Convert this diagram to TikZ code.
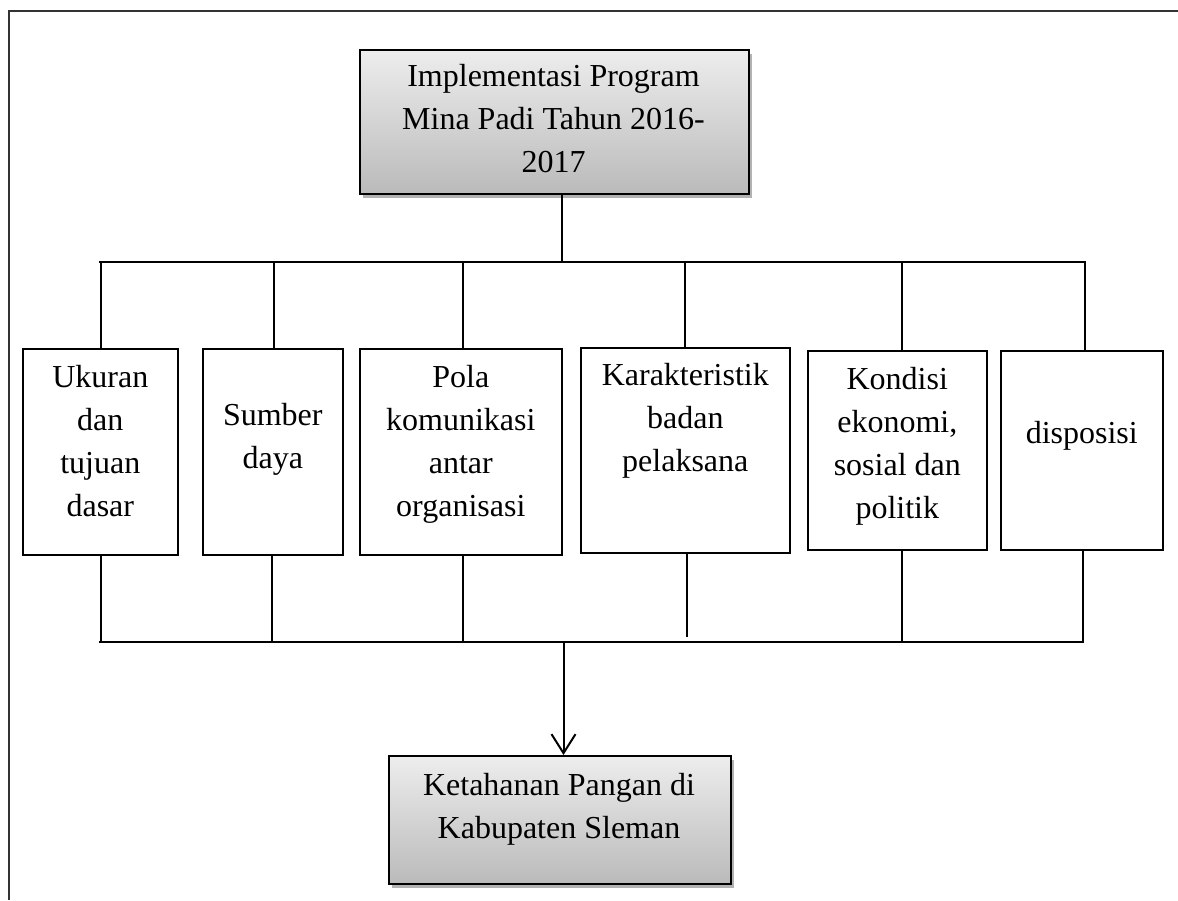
\documentclass[tikz,border=0pt]{standalone}
\usepackage{fontspec}
\setmainfont{Liberation Serif}
\usetikzlibrary{arrows.meta,shadows}
\begin{document}
\begin{tikzpicture}[x=1pt,y=-1pt,
  txt/.style={font=\fontsize{32}{43}\selectfont, align=center, anchor=north, inner sep=0pt},
  headbox/.style={draw=black, line width=2pt, rectangle, anchor=north west, inner sep=0pt,
     top color=black!7, bottom color=black!27,
     drop shadow={shadow xshift=3pt, shadow yshift=-4pt, fill=black, opacity=0.3}},
  factbox/.style={draw=black, line width=1.6pt, rectangle, anchor=north west, inner sep=0pt, fill=white},
  bus/.style={line width=2.3pt},
  conn/.style={line width=2pt},
  frameline/.style={line width=2pt, draw=black!80}
]
\useasboundingbox (0,0) rectangle (1178,900);
% frame
\coordinate (fTL) at (8.5,10.5);
\coordinate (fTR) at (1178,10.5);
\coordinate (fBL) at (8.5,900);
\draw[frameline] (fBL) -- (fTL) -- (fTR);

% top box
\node[headbox, minimum width=389pt, minimum height=144pt] (top) at (359,49) {};
\node[txt] (toptxt) at (553.5,56.5) {\strut Implementasi Program\\Mina Padi Tahun 2016-\\2017};

% bottom box
\node[headbox, minimum width=342pt, minimum height=128pt] (bot) at (388,755) {};
\node[txt] (bottxt) at (559,765) {\strut Ketahanan Pangan di\\Kabupaten Sleman};

% factor boxes
\node[factbox, minimum width=155pt, minimum height=206pt] (b1) at (22,348) {};
\node[factbox, minimum width=140pt, minimum height=206pt] (b2) at (202,348) {};
\node[factbox, minimum width=202pt, minimum height=206pt] (b3) at (359,348) {};
\node[factbox, minimum width=209pt, minimum height=205pt] (b4) at (580,347) {};
\node[factbox, minimum width=179pt, minimum height=199pt] (b5) at (807,350) {};
\node[factbox, minimum width=162pt, minimum height=199pt] (b6) at (1000,350) {};

\node[txt] (t1) at (b1.north |- 0,357.5) {\strut Ukuran\\dan\\tujuan\\dasar};
\node[txt] (t2) at (b2.north |- 0,395) {\strut Sumber\\daya};
\node[txt] (t3) at (b3.north |- 0,357.5) {\strut Pola\\komunikasi\\antar\\organisasi};
\node[txt] (t4) at (b4.north |- 0,355.5) {\strut Karakteristik\\badan\\pelaksana};
\node[txt] (t5) at (b5.north |- 0,359.5) {\strut Kondisi\\ekonomi,\\sosial dan\\politik};
\node[txt] (t6) at (b6.north |- 0,413.5) {\strut disposisi};

% top bus
\coordinate (tv) at (561.5,262);
\coordinate (u1) at (100.5,262);
\coordinate (u2) at (273.5,262);
\coordinate (u3) at (463,262);
\coordinate (u4) at (685,262);
\coordinate (u5) at (901.5,262);
\coordinate (u6) at (1085,262);
\draw[conn] (top.south -| tv) -- (tv);
\draw[bus, line cap=rect] (u1) -- (u6);
\foreach \i in {1,...,6} {\draw[conn] (u\i) -- (u\i |- b\i.north);}

% bottom bus
\coordinate (l1) at (100.5,642);
\coordinate (l2) at (272,642);
\coordinate (l3) at (462.5,642);
\coordinate (l4) at (687,636.5);
\coordinate (l5) at (901.5,642);
\coordinate (l6) at (1083,642);
\coordinate (lv) at (563.5,642);
\draw[bus, line cap=rect] (l1) -- (l6);
\foreach \i in {1,...,6} {\draw[conn] (l\i |- b\i.south) -- (l\i);}

% arrow
\draw[conn, -{Straight Barb[length=19pt,width=24pt,line width=2pt]}] (lv) -- (lv |- bot.north);
\end{tikzpicture}
\end{document}
